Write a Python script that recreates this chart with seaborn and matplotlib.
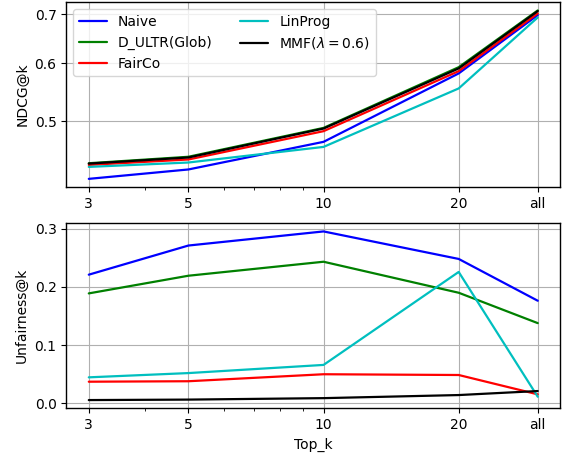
import numpy as np
import pandas as pd
import matplotlib
matplotlib.use("Agg")
import matplotlib.pyplot as plt
import seaborn as sns
from matplotlib.ticker import NullLocator, NullFormatter, FixedLocator, FixedFormatter

# ---- data ----
k_values = [3, 5, 10, 20, 30]          # 30 stands for "all"
k_labels = ["3", "5", "10", "20", "all"]
methods = ["Naive", "D_ULTR(Glob)", "FairCo", "LinProg", r"MMF($\lambda=0.6$)"]
colors = ["blue", "green", "red", "c", "black"]

ndcg_naive = [0.4175, 0.430, 0.469, 0.5815, 0.6985]
ndcg_dultr = [0.4385, 0.4475, 0.490, 0.593, 0.7088]
ndcg_fairco = [0.4362, 0.4437, 0.485, 0.5857, 0.7022]
ndcg_linprog = [0.4335, 0.4395, 0.4616, 0.5547, 0.6934]
ndcg_mmf = [0.4380, 0.4465, 0.489, 0.5907, 0.7073]

unf_naive = [0.2208, 0.2708, 0.295, 0.2478, 0.1761]
unf_dultr = [0.1887, 0.219, 0.243, 0.1898, 0.1377]
unf_fairco = [0.0372, 0.038, 0.050, 0.0487, 0.0155]
unf_linprog = [0.0447, 0.052, 0.066, 0.2255, 0.0114]
unf_mmf = [0.0057, 0.0065, 0.009, 0.0143, 0.0212]

ndcg = [ndcg_naive, ndcg_dultr, ndcg_fairco, ndcg_linprog, ndcg_mmf]
unf = [unf_naive, unf_dultr, unf_fairco, unf_linprog, unf_mmf]

rows = []
for m, nd, uf in zip(methods, ndcg, unf):
    for k, a, b in zip(k_values, nd, uf):
        rows.append({"k": k, "method": m, "ndcg": a, "unf": b})
df = pd.DataFrame(rows)

sns.set_style("ticks", {"axes.grid": True})
plt.rcParams.update({
    "font.family": ["DejaVu Sans"],
    "font.size": 10,
    "axes.edgecolor": "black",
    "axes.linewidth": 1.0,
    "grid.color": "#b0b0b0",
    "grid.linewidth": 0.8,
    "xtick.color": "black",
    "ytick.color": "black",
    "xtick.direction": "out",
    "ytick.direction": "out",
    "xtick.major.size": 3.5,
    "ytick.major.size": 3.5,
    "xtick.minor.size": 2,
    "axes.labelcolor": "black",
    "text.color": "black",
})

fig = plt.figure(figsize=(5.67, 4.55), dpi=100)
ax1 = fig.add_axes([0.117, 0.5884, 0.871, 0.4072])
ax2 = fig.add_axes([0.117, 0.1022, 0.871, 0.4077])

palette = dict(zip(methods, colors))

sns.lineplot(data=df, x="k", y="ndcg", hue="method", hue_order=methods,
             palette=palette, ax=ax1, linewidth=1.6)
sns.lineplot(data=df, x="k", y="unf", hue="method", hue_order=methods,
             palette=palette, ax=ax2, linewidth=1.6, legend=False)

for ax in (ax1, ax2):
    ax.set_xscale("log")
    ax.xaxis.set_major_locator(FixedLocator(k_values))
    ax.xaxis.set_major_formatter(FixedFormatter(k_labels))
    ax.xaxis.set_minor_formatter(NullFormatter())
    ax.grid(True, which="major")
    ax.grid(False, which="minor")
    for s in ax.spines.values():
        s.set_visible(True)
        s.set_color("black")

ax1.set_yscale("log")
ax1.yaxis.set_major_locator(FixedLocator([0.5, 0.6, 0.7]))
ax1.yaxis.set_major_formatter(FixedFormatter(["0.5", "0.6", "0.7"]))
ax1.yaxis.set_minor_locator(NullLocator())
ax1.set_xlabel("")
ax1.set_ylabel("NDCG@k")

ax2.set_yticks([0.0, 0.1, 0.2, 0.3])
ax2.set_yticklabels(["0.0", "0.1", "0.2", "0.3"])
ax2.set_xlabel("Top_k")
ax2.set_ylabel("Unfairness@k")

leg = ax1.legend(loc="upper left", ncol=2, frameon=True, framealpha=0.8,
                 fancybox=True, edgecolor="#cccccc")
leg.set_title(None)

fig.savefig("out.png", dpi=100)
